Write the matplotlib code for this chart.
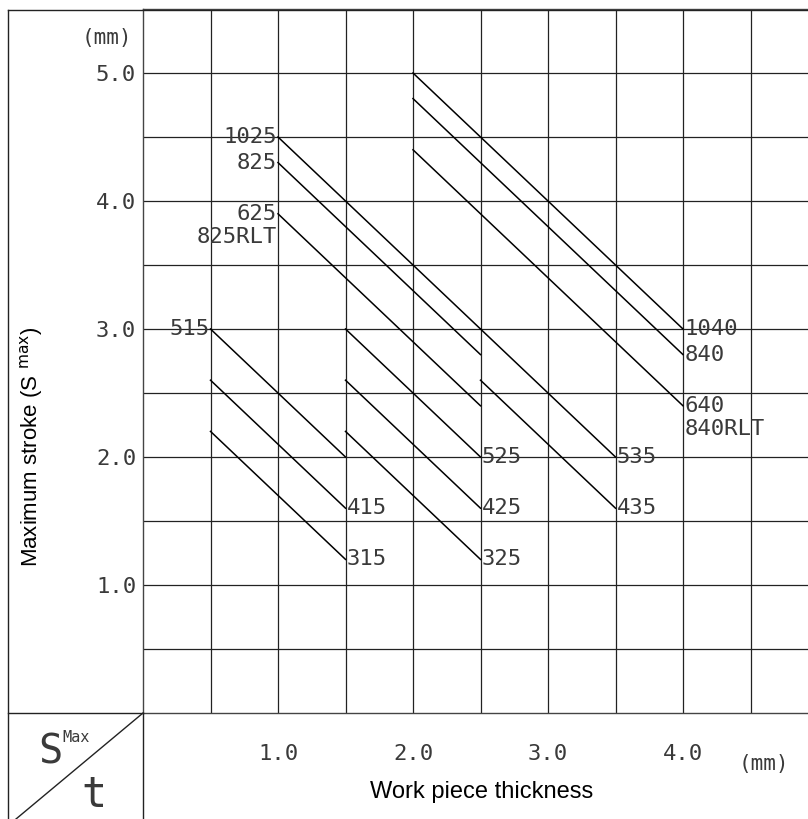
# -*- coding: utf-8 -*-
# 最大行程 - 板厚 图

from matplotlib import pyplot as plt
from matplotlib.lines import Line2D

W, H = 808, 819

# 每条线：名称，起点(x0, y0)，终点(x1, y1)
names = ['1025', '535', '825', '625', '525', '425', '325',
         '515', '415', '315', '435', '1040', '840', '640']
x0 = [1.0, 2.5, 1.0, 1.0, 1.5, 1.5, 1.5, 0.5, 0.5, 0.5, 2.5, 2.0, 2.0, 2.0]
y0 = [4.5, 3.0, 4.3, 3.9, 3.0, 2.6, 2.2, 3.0, 2.6, 2.2, 2.6, 5.0, 4.8, 4.4]
x1 = [2.5, 3.5, 2.5, 2.5, 2.5, 2.5, 2.5, 1.5, 1.5, 1.5, 3.5, 4.0, 4.0, 4.0]
y1 = [3.0, 2.0, 2.8, 2.4, 2.0, 1.6, 1.2, 2.0, 1.6, 1.2, 1.6, 3.0, 2.8, 2.4]
# 标签在起点(左)还是终点(右)
side = ['left', 'right', 'left', 'left', 'right', 'right', 'right',
        'left', 'right', 'right', 'right', 'right', 'right', 'right']
# 同一条线上的第二个标签
extra = {'625': '825RLT', '640': '840RLT'}

x_ticks = [1.0, 2.0, 3.0, 4.0]
y_ticks = [1.0, 2.0, 3.0, 4.0, 5.0]

CAD = 'DejaVu Sans Mono'
SANS = 'Liberation Sans'
TXT = '#3a3a3a'


def px(x, y):
    # 像素坐标 -> figure 坐标
    return x / W, 1 - y / H


def main():
    fig = plt.figure(figsize=(W / 100, H / 100), dpi=100)

    left, top, bottom = 143, 9, 713
    ax = fig.add_axes([left / W, 1 - bottom / H, (W - left) / W, (bottom - top) / H])
    ax.set_xlim(0, (W - left) / 135.0)
    ax.set_ylim(0, 5.5)

    ax.set_xticks(x_ticks)
    ax.set_xticklabels(['%.1f' % v for v in x_ticks], family=CAD, fontsize=16)
    ax.set_xticks([0.5, 1.5, 2.5, 3.5, 4.5], minor=True)
    ax.set_yticks(y_ticks)
    ax.set_yticklabels(['%.1f' % v for v in y_ticks], family=CAD, fontsize=16)
    ax.set_yticks([0.5, 1.5, 2.5, 3.5, 4.5], minor=True)
    ax.tick_params(which='both', length=0)
    ax.tick_params(axis='x', pad=22, colors=TXT)
    ax.tick_params(axis='y', pad=5, colors=TXT)
    ax.grid(which='both', color='#222222', linewidth=0.9)
    ax.spines['right'].set_visible(False)
    for s in ['left', 'top', 'bottom']:
        ax.spines[s].set_color('#444444')
        ax.spines[s].set_linewidth(1.0)

    # 画每条线和标签
    for i, n in enumerate(names):
        ax.plot([x0[i], x1[i]], [y0[i], y1[i]], color='black', linewidth=1.1)
        if side[i] == 'left':
            xy, dx, ha = (x0[i], y0[i]), -1, 'right'
        else:
            xy, dx, ha = (x1[i], y1[i]), 1, 'left'
        ax.annotate(n, xy, xytext=(dx, 0), textcoords='offset points',
                    ha=ha, va='center', family=CAD, fontsize=16, color=TXT)
        if n in extra:
            ax.annotate(extra[n], xy, xytext=(dx, -17), textcoords='offset points',
                        ha=ha, va='center', family=CAD, fontsize=16, color=TXT)

    # 单位
    fig.text(*px(107, 38), '(mm)', family=CAD, fontsize=15, ha='center', va='center', color=TXT)
    fig.text(*px(764, 764), '(mm)', family=CAD, fontsize=15, ha='center', va='center', color=TXT)

    # 坐标轴标题
    fig.text(*px(32, 447), 'Maximum stroke (S $^{\\rm max}$)', family=SANS, fontsize=16,
             rotation=90, ha='center', va='center')
    fig.text(*px(482, 792), 'Work piece thickness', family=SANS, fontsize=17,
             ha='center', va='center')

    # 外框和左下角斜线
    frame = [((8, 10), (8, H)), ((8, 10), (W, 10)), ((8, 713), (left, 713)),
             ((left, 713), (left, H)), ((left, 713), (16, H))]
    for (a, b) in frame:
        (fx0, fy0), (fx1, fy1) = px(*a), px(*b)
        fig.add_artist(Line2D([fx0, fx1], [fy0, fy1], transform=fig.transFigure,
                              color='#222222', linewidth=1.0))

    fig.text(*px(50, 752), 'S', family=CAD, fontsize=29, ha='center', va='center', color=TXT)
    fig.text(*px(76, 738), 'Max', family=CAD, fontsize=11, ha='center', va='center', color=TXT)
    fig.text(*px(94, 795), 't', family=CAD, fontsize=30, ha='center', va='center', color=TXT)

    plt.savefig('out.png', dpi=100)


if __name__ == "__main__":
    main()
